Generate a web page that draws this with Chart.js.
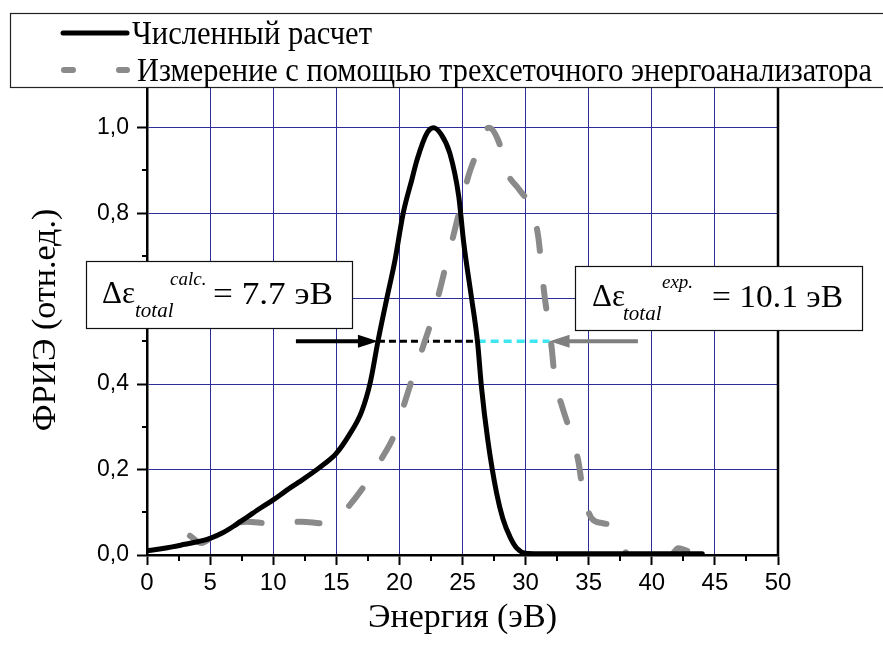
<!DOCTYPE html>
<html><head><meta charset="utf-8">
<script src="https://cdn.jsdelivr.net/npm/chart.js@4.4.0/dist/chart.umd.min.js"></script>
<style>html,body{margin:0;padding:0;background:#fff;}canvas{display:block;}</style>
</head><body>
<canvas id="c" width="883" height="648"></canvas>
<script>
// ---- data ----
const calcEnergy = [0,1,2,3,4,5,6,7,8,9,10,11,12,13,14,15,16,17,17.7,18.3,19,19.65,20.3,21,21.4,22.2,22.7,23.3,24,24.7,25.1,25.7,26.2,26.5,27,27.7,28.2,28.8,29.3,30,31,35,40,44];
const calcValues = [0.010,0.014,0.019,0.025,0.031,0.039,0.052,0.070,0.090,0.110,0.129,0.150,0.170,0.190,0.212,0.238,0.280,0.335,0.405,0.500,0.600,0.690,0.800,0.880,0.925,0.988,1.000,0.985,0.940,0.840,0.730,0.605,0.496,0.394,0.270,0.145,0.085,0.040,0.016,0.004,0.003,0.003,0.003,0.003];
const expEnergy = [3.4,4.3,5.5,6.5,7.9,9.75,11,12.25,14,15,15.95,17.27,18.6,19.65,20.4,21.1,21.9,22.56,23.2,23.7,24.3,24.8,25.5,26.1,26.6,27.1,27.9,28.5,29.5,30.5,31,31.27,31.46,31.8,32.07,32.33,32.86,33.65,34.18,34.57,35.23,36,37,37.5,38,39,40,41,41.6,42.1,43,44,45];
const expValues = [0.045,0.028,0.052,0.070,0.078,0.074,0.076,0.078,0.074,0.085,0.113,0.164,0.226,0.285,0.355,0.420,0.490,0.550,0.620,0.680,0.750,0.810,0.890,0.940,0.985,1.000,0.965,0.898,0.855,0.808,0.745,0.671,0.617,0.543,0.484,0.406,0.351,0.277,0.219,0.145,0.086,0.075,0.065,0.040,0.003,-0.030,-0.040,-0.020,0.000,0.016,0.008,0.004,0.003];
const xMinorTicks = [2.5,7.5,12.5,17.5,22.5,27.5,32.5,37.5,42.5,47.5];
const yMinorTicks = [0.1,0.3,0.5,0.7,0.9];
const seriesNames = ['Численный расчет','Измерение с помощью трехсеточного энергоанализатора'];
const xTitle = 'Энергия (эВ)';
const yTitle = 'ФРИЭ (отн.ед.)';
const halfLevel = 0.5;
const calcDashX = [18.3, 26.2];
const expDashX = [26.2, 31.9];
const calcArrowX = [11.8, 18.3];
const expArrowX = [38.9, 31.9];
const calcLabel = {sup:'calc.', value:'= 7.7 эВ'};
const expLabel = {sup:'exp.', value:'= 10.1 эВ'};

const pts = (xs, ys) => xs.map((x,i)=>({x, y: ys[i]}));
const SERIF = '"Liberation Serif","Times New Roman",serif';
const SANS = '"Liberation Sans",Arial,sans-serif';
const GRID = '#2e2e98';

function fitText(ctx, text, x, y, targetW){
  const w = ctx.measureText(text).width;
  ctx.save(); ctx.translate(x, y); ctx.scale(targetW / w, 1); ctx.fillText(text, 0, 0); ctx.restore();
}
function arrow(ctx, x0, x1, yy, color){
  const dir = Math.sign(x1 - x0), head = 20, hw = 6.5;
  ctx.strokeStyle = color; ctx.fillStyle = color; ctx.lineWidth = 4; ctx.lineCap = 'butt';
  ctx.beginPath(); ctx.moveTo(x0, yy); ctx.lineTo(x1 - dir*head + dir*2, yy); ctx.stroke();
  ctx.beginPath(); ctx.moveTo(x1, yy); ctx.lineTo(x1 - dir*head, yy - hw); ctx.lineTo(x1 - dir*head, yy + hw); ctx.closePath(); ctx.fill();
}
function labelBox(ctx, bx, by, bw, bh, dx, base, subX, supX, valX, valEnd, lab){
  ctx.fillStyle = '#fff'; ctx.fillRect(bx, by, bw, bh);
  ctx.strokeStyle = '#111'; ctx.lineWidth = 1.2; ctx.strokeRect(bx+0.5, by+0.5, bw, bh);
  ctx.fillStyle = '#000'; ctx.textBaseline = 'alphabetic'; ctx.textAlign = 'left';
  ctx.font = '31px ' + SERIF; ctx.fillText('Δε', dx, base);
  ctx.font = 'italic 21px ' + SERIF; ctx.fillText('total', subX, base + 14);
  ctx.font = 'italic 19px ' + SERIF; ctx.fillText(lab.sup, supX, base - 18);
  ctx.font = '32px ' + SERIF; fitText(ctx, lab.value, valX, base + 1, valEnd - valX);
}

const deco = {
  id: 'deco',
  afterDraw(chart){
    const {ctx, chartArea: a, scales: {x, y}} = chart;
    ctx.save();
    // right frame
    ctx.strokeStyle = '#000'; ctx.lineWidth = 2.5;
    ctx.beginPath(); ctx.moveTo(a.right, a.top); ctx.lineTo(a.right, a.bottom + 1); ctx.stroke();
    // minor ticks
    ctx.lineWidth = 2;
    xMinorTicks.forEach(v => { const px = Math.round(x.getPixelForValue(v)); ctx.beginPath(); ctx.moveTo(px, a.bottom); ctx.lineTo(px, a.bottom + 6); ctx.stroke(); });
    yMinorTicks.forEach(v => { const py = Math.round(y.getPixelForValue(v)); ctx.beginPath(); ctx.moveTo(a.left, py); ctx.lineTo(a.left - 5, py); ctx.stroke(); });
    // arrows
    const yy = y.getPixelForValue(halfLevel);
    arrow(ctx, x.getPixelForValue(calcArrowX[0]), x.getPixelForValue(calcArrowX[1]), yy, '#000');
    arrow(ctx, x.getPixelForValue(expArrowX[0]), x.getPixelForValue(expArrowX[1]), yy, '#7f7f7f');
    // annotation boxes
    labelBox(ctx, 86, 261, 266, 67, 102, 303, 135, 170, 213, 333, calcLabel);
    labelBox(ctx, 575, 266, 287, 64, 592, 306, 623, 662, 712, 843, expLabel);
    // legend
    ctx.fillStyle = '#fff'; ctx.fillRect(10, 13, 880, 74);
    ctx.strokeStyle = '#222'; ctx.lineWidth = 1.2; ctx.strokeRect(10.5, 13.5, 880, 74);
    ctx.strokeStyle = '#000'; ctx.lineWidth = 5; ctx.lineCap = 'round';
    ctx.beginPath(); ctx.moveTo(63, 33); ctx.lineTo(127, 33); ctx.stroke();
    ctx.strokeStyle = '#8a8a8a'; ctx.lineWidth = 6;
    ctx.beginPath(); ctx.moveTo(64, 70); ctx.lineTo(73, 70); ctx.moveTo(119, 70); ctx.lineTo(127, 70); ctx.stroke();
    ctx.fillStyle = '#000'; ctx.textBaseline = 'alphabetic'; ctx.textAlign = 'left';
    ctx.font = '33px ' + SERIF;
    fitText(ctx, seriesNames[0], 132, 44, 240);
    fitText(ctx, seriesNames[1], 137, 81, 735);
    ctx.restore();
  }
};

Chart.defaults.color = '#000';
new Chart(document.getElementById('c'), {
  type: 'line',
  data: {
    datasets: [
      {label: seriesNames[0], data: pts(calcEnergy, calcValues), borderColor: '#000', borderWidth: 5, pointRadius: 0, cubicInterpolationMode: 'monotone', fill: false, borderCapStyle: 'round', borderJoinStyle: 'round'},
      {label: seriesNames[1], data: pts(expEnergy, expValues), borderColor: '#8a8a8a', borderWidth: 6, borderDash: [22, 36], borderCapStyle: 'round', pointRadius: 0, cubicInterpolationMode: 'monotone', fill: false, clip: {left: 5, right: 5, top: 5, bottom: 0}},
      {label: 'calc FWHM', data: calcDashX.map(v => ({x: v, y: halfLevel})), borderColor: '#000', borderWidth: 3, borderDash: [7, 4], pointRadius: 0, fill: false},
      {label: 'exp FWHM', data: expDashX.map(v => ({x: v, y: halfLevel})), borderColor: '#3ee6f2', borderWidth: 3.5, borderDash: [8, 5], pointRadius: 0, fill: false}
    ]
  },
  options: {
    responsive: false, animation: false, devicePixelRatio: 1,
    layout: {padding: {top: 85, right: 105, left: 0, bottom: 0}},
    plugins: {legend: {display: false}, tooltip: {enabled: false}},
    scales: {
      x: {
        type: 'linear', min: 0, max: 50,
        afterFit(s){ s.height = 93; },
        ticks: {stepSize: 5, padding: 4, font: {family: SANS, size: 24}, color: '#000'},
        grid: {color: GRID, lineWidth: 1, tickColor: '#000', tickWidth: 2, tickLength: 10},
        border: {color: '#000', width: 2.5},
        title: {display: true, text: xTitle, font: {family: SERIF, size: 34}, padding: {top: 0, bottom: 10}, color: '#000'}
      },
      y: {
        type: 'linear', min: 0, max: 1.1,
        afterFit(s){ s.width = 147; },
        ticks: {stepSize: 0.2, includeBounds: false, padding: 8, font: {family: SANS, size: 23}, color: '#000',
          callback: v => v.toFixed(1).replace('.', ',')},
        grid: {color: GRID, lineWidth: 1, tickColor: '#000', tickWidth: 2, tickLength: 10},
        border: {color: '#000', width: 2.5},
        title: {display: true, text: yTitle, font: {family: SERIF, size: 34}, padding: {top: 26, bottom: 0}, color: '#000'}
      }
    }
  },
  plugins: [deco]
});
</script>
</body></html>
